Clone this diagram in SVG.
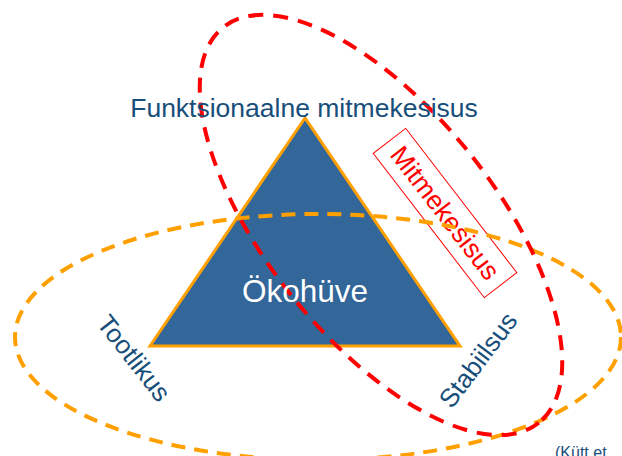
<svg xmlns="http://www.w3.org/2000/svg" width="622" height="456" viewBox="0 0 622 456">
<style>
.lbl{font-family:"Liberation Sans",Arial,sans-serif;fill:#174E7A;font-size:26px;text-anchor:middle}
.dash-o{fill:none;stroke:#FFA000;stroke-width:4;stroke-dasharray:14 9}
.dash-r{fill:none;stroke:#FF0000;stroke-width:4;stroke-dasharray:15 10}
</style>
<rect width="622" height="456" fill="#FFFFFF"/>
<g id="okohuve">
<polygon points="305,118 150,346 460,346" fill="#336699" stroke="#FFA000" stroke-width="3" stroke-linejoin="miter"/>
</g>
<g id="mitmekesisus-label">
<g transform="translate(445,213) rotate(52.4)">
<rect x="-91" y="-20.5" width="182" height="41" fill="none" stroke="#FF0000" stroke-width="1"/>
<text x="0" y="9" style="font-family:'Liberation Sans',Arial,sans-serif;font-size:26.5px;fill:#FF0000;text-anchor:middle">Mitmekesisus</text>
</g>
</g>
<g id="connectors">
<ellipse id="tootlikus-stabiilsus-ring" class="dash-o" cx="318" cy="337" rx="303" ry="123"/>
<ellipse id="mitmekesisus-ring" class="dash-r" cx="0" cy="0" rx="253" ry="114" transform="translate(381,225) rotate(51.4)"/>
</g>
<g id="okohuve-label">
<text x="305" y="302" style="font-family:'Liberation Sans',Arial,sans-serif;font-size:31.5px;fill:#FFFFFF;text-anchor:middle">Ökohüve</text>
</g>
<g id="funktsionaalne">
<text class="lbl" x="304" y="117" style="font-size:26.5px">Funktsionaalne mitmekesisus</text>
</g>
<g id="tootlikus">
<text class="lbl" transform="translate(134,358) rotate(52)" x="0" y="9">Tootlikus</text>
</g>
<g id="stabiilsus">
<text class="lbl" transform="translate(478,360) rotate(-53)" x="0" y="9">Stabiilsus</text>
</g>
<g id="citation">
<text x="555" y="458" style="font-family:'Liberation Sans',Arial,sans-serif;font-size:16px;fill:#174E7A">(Kütt et</text>
</g>
</svg>
